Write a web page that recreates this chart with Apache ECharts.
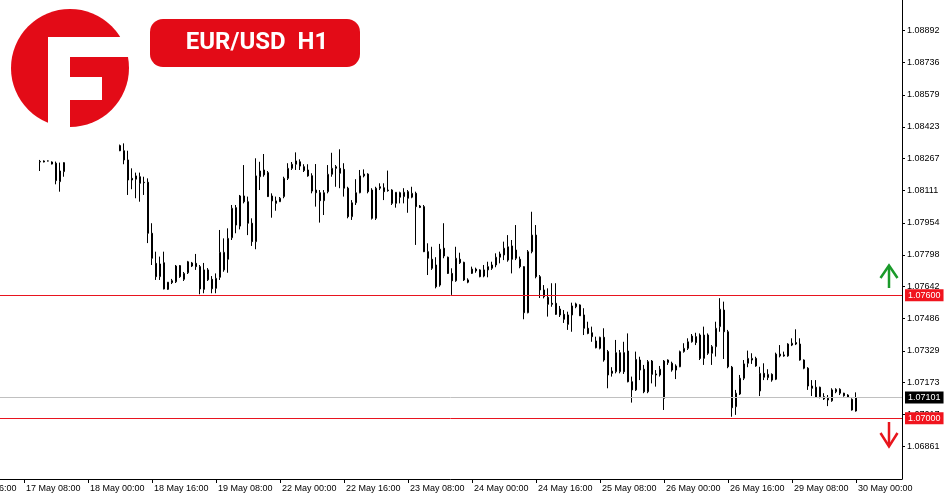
<!DOCTYPE html>
<html><head><meta charset="utf-8">
<script src="https://cdn.jsdelivr.net/npm/echarts@6.0.0/dist/echarts.min.js"></script>
<style>html,body{margin:0;padding:0;background:#fff}#c{width:950px;height:500px}</style>
</head><body><div id="c"></div><script>
// ---- data ----
const gap = n => Array(n).fill(null);
// trading days: [label, firstHour, lastHour]
const days = [['16 May',16,23],['17 May',0,23],['18 May',0,23],['19 May',0,23],['22 May',0,23],['23 May',0,23],['24 May',0,23],['25 May',0,23],['26 May',0,23],['29 May',0,23],['30 May',0,11]];
// hourly OHLC bars: [open, close, low, high]
const may16 = gap(8);
const may17 = [...gap(12),
 [1.08251,1.08254,1.08207,1.08261],[1.08256,1.08251,1.08249,1.08259],[1.08256,1.08256,1.08254,1.08258],[1.08251,1.08241,1.08239,1.08254],
 [1.08245,1.08160,1.08142,1.08253],[1.08155,1.08207,1.08106,1.08248],[1.08204,1.08248,1.08179,1.08250],
 ...gap(5)];
const may18 = [...gap(8),
 [1.08331,1.08306,1.08304,1.08336],[1.08306,1.08261,1.08240,1.08342],[1.08261,1.08163,1.08090,1.08306],[1.08171,1.08163,1.08118,1.08220],
 [1.08167,1.08183,1.08074,1.08199],[1.08179,1.08147,1.08057,1.08199],[1.08152,1.08150,1.08090,1.08179],[1.08152,1.07903,1.07855,1.08171],
 [1.07903,1.07781,1.07748,1.07952],[1.07756,1.07691,1.07675,1.07813],[1.07691,1.07753,1.07675,1.07789],[1.07759,1.07631,1.07629,1.07813],
 [1.07629,1.07664,1.07626,1.07665],[1.07671,1.07662,1.07655,1.07680],[1.07666,1.07743,1.07660,1.07748],[1.07745,1.07691,1.07685,1.07748]];
const may19 = [
 [1.07678,1.07707,1.07670,1.07714],[1.07710,1.07764,1.07704,1.07768],[1.07758,1.07743,1.07738,1.07763],[1.07756,1.07740,1.07724,1.07802],
 [1.07740,1.07631,1.07605,1.07748],[1.07629,1.07724,1.07610,1.07758],[1.07724,1.07676,1.07670,1.07733],[1.07678,1.07632,1.07610,1.07694],
 [1.07634,1.07683,1.07610,1.07707],[1.07688,1.07810,1.07675,1.07919],[1.07724,1.07810,1.07715,1.07878],[1.07776,1.07878,1.07710,1.07927],
 [1.07881,1.08025,1.07870,1.08041],[1.08028,1.07943,1.07903,1.08041],[1.07938,1.08085,1.07922,1.08090],[1.08085,1.08057,1.08049,1.08236],
 [1.08057,1.07952,1.07894,1.08082],[1.07952,1.07862,1.07841,1.07976],[1.07862,1.08183,1.07825,1.08269],[1.08179,1.08207,1.08114,1.08252],
 [1.08212,1.08188,1.08179,1.08290],[1.08199,1.08082,1.08080,1.08207],[1.08085,1.08061,1.07979,1.08098],[1.08061,1.08049,1.08013,1.08082]];
const may22 = [
 [1.08057,1.08074,1.08056,1.08080],[1.08082,1.08171,1.08074,1.08179],[1.08171,1.08220,1.08163,1.08245],[1.08220,1.08240,1.08212,1.08251],
 [1.08240,1.08256,1.08212,1.08298],[1.08252,1.08231,1.08212,1.08264],[1.08228,1.08209,1.08202,1.08240],[1.08212,1.08183,1.08179,1.08240],
 [1.08184,1.08109,1.08098,1.08196],[1.08114,1.08101,1.08033,1.08241],[1.08101,1.08062,1.07955,1.08114],[1.08062,1.08101,1.07992,1.08114],
 [1.08106,1.08191,1.08098,1.08236],[1.08191,1.08220,1.08179,1.08296],[1.08220,1.08228,1.08130,1.08236],[1.08220,1.08196,1.08123,1.08313],
 [1.08215,1.08123,1.08082,1.08245],[1.08123,1.07984,1.07976,1.08130],[1.07984,1.08052,1.07968,1.08065],[1.08052,1.08101,1.08041,1.08167],
 [1.08101,1.08183,1.08098,1.08212],[1.08183,1.08192,1.08176,1.08215],[1.08192,1.08106,1.08098,1.08196],[1.08114,1.07976,1.07970,1.08123]];
const may23 = [
 [1.07976,1.08123,1.07968,1.08130],[1.08130,1.08123,1.08114,1.08147],[1.08125,1.08106,1.08065,1.08147],[1.08114,1.08111,1.08106,1.08209],
 [1.08114,1.08049,1.08041,1.08118],[1.08049,1.08103,1.08028,1.08104],[1.08101,1.08079,1.08049,1.08106],[1.08082,1.08103,1.08049,1.08123],
 [1.08106,1.08074,1.08003,1.08114],[1.08079,1.08098,1.08074,1.08130],[1.08098,1.08033,1.07846,1.08106],[1.08036,1.08029,1.08026,1.08041],
 [1.08033,1.07813,1.07811,1.08041],[1.07813,1.07781,1.07699,1.07854],[1.07776,1.07732,1.07724,1.07837],[1.07748,1.07642,1.07634,1.07786],
 [1.07650,1.07825,1.07642,1.07851],[1.07830,1.07792,1.07781,1.07952],[1.07786,1.07707,1.07704,1.07789],[1.07707,1.07671,1.07602,1.07732],
 [1.07671,1.07781,1.07666,1.07837],[1.07776,1.07759,1.07753,1.07808],[1.07761,1.07675,1.07670,1.07764],[1.07675,1.07664,1.07659,1.07683]];
const may24 = [
 [1.07707,1.07728,1.07704,1.07740],[1.07728,1.07719,1.07710,1.07735],[1.07724,1.07691,1.07688,1.07727],[1.07694,1.07724,1.07688,1.07748],
 [1.07724,1.07740,1.07688,1.07764],[1.07732,1.07748,1.07724,1.07764],[1.07748,1.07786,1.07737,1.07805],[1.07786,1.07802,1.07756,1.07813],
 [1.07797,1.07830,1.07772,1.07862],[1.07772,1.07837,1.07764,1.07894],[1.07841,1.07776,1.07707,1.07870],[1.07821,1.07781,1.07772,1.07943],
 [1.07776,1.07740,1.07732,1.07789],[1.07740,1.07515,1.07483,1.07742],[1.07515,1.07813,1.07512,1.07821],[1.07813,1.07894,1.07805,1.08008],
 [1.07894,1.07691,1.07683,1.07943],[1.07691,1.07626,1.07587,1.07699],[1.07626,1.07593,1.07585,1.07650],[1.07590,1.07556,1.07496,1.07634],
 [1.07561,1.07556,1.07544,1.07659],[1.07561,1.07507,1.07504,1.07659],[1.07533,1.07504,1.07494,1.07548],[1.07507,1.07483,1.07465,1.07528]];
const may25 = [
 [1.07458,1.07504,1.07431,1.07520],[1.07504,1.07548,1.07422,1.07564],[1.07544,1.07558,1.07537,1.07564],[1.07553,1.07500,1.07499,1.07556],
 [1.07504,1.07439,1.07406,1.07537],[1.07439,1.07414,1.07410,1.07471],[1.07417,1.07398,1.07373,1.07447],[1.07377,1.07344,1.07341,1.07398],
 [1.07341,1.07395,1.07336,1.07398],[1.07395,1.07284,1.07276,1.07439],[1.07325,1.07211,1.07146,1.07333],[1.07219,1.07230,1.07203,1.07249],
 [1.07227,1.07320,1.07219,1.07382],[1.07227,1.07320,1.07219,1.07333],[1.07320,1.07227,1.07216,1.07373],[1.07328,1.07178,1.07175,1.07414],
 [1.07178,1.07138,1.07076,1.07203],[1.07138,1.07287,1.07133,1.07325],[1.07235,1.07284,1.07186,1.07300],[1.07239,1.07129,1.07122,1.07260],
 [1.07129,1.07276,1.07122,1.07284],[1.07279,1.07214,1.07170,1.07284],[1.07216,1.07211,1.07154,1.07235],[1.07211,1.07239,1.07203,1.07255]];
const may26 = [
 [1.07097,1.07279,1.07040,1.07284],[1.07271,1.07284,1.07260,1.07287],[1.07268,1.07235,1.07227,1.07276],[1.07235,1.07255,1.07191,1.07263],
 [1.07251,1.07325,1.07249,1.07330],[1.07325,1.07341,1.07320,1.07366],[1.07341,1.07373,1.07333,1.07390],[1.07373,1.07401,1.07369,1.07411],
 [1.07398,1.07369,1.07357,1.07417],[1.07406,1.07292,1.07284,1.07414],[1.07292,1.07406,1.07260,1.07447],[1.07406,1.07317,1.07309,1.07414],
 [1.07317,1.07349,1.07260,1.07357],[1.07349,1.07439,1.07301,1.07471],[1.07447,1.07532,1.07422,1.07586],[1.07528,1.07422,1.07289,1.07569],
 [1.07422,1.07251,1.07244,1.07431],[1.07249,1.07051,1.07007,1.07255],[1.07056,1.07122,1.07016,1.07138],[1.07118,1.07195,1.07113,1.07211],
 [1.07195,1.07265,1.07186,1.07284],[1.07268,1.07292,1.07249,1.07330],[1.07284,1.07292,1.07265,1.07317],[1.07292,1.07255,1.07251,1.07300]];
const may29 = [
 [1.07133,1.07219,1.07108,1.07251],[1.07219,1.07200,1.07186,1.07268],[1.07198,1.07214,1.07186,1.07239],[1.07214,1.07186,1.07178,1.07219],
 [1.07190,1.07313,1.07186,1.07320],[1.07304,1.07313,1.07297,1.07357],[1.07304,1.07309,1.07300,1.07325],[1.07304,1.07362,1.07300,1.07366],
 [1.07357,1.07366,1.07352,1.07390],[1.07369,1.07362,1.07357,1.07434],[1.07362,1.07284,1.07281,1.07390],[1.07284,1.07244,1.07239,1.07287],
 [1.07244,1.07157,1.07138,1.07249],[1.07157,1.07146,1.07108,1.07186],[1.07151,1.07102,1.07100,1.07186],[1.07151,1.07105,1.07097,1.07154],
 [1.07105,1.07094,1.07089,1.07122],[1.07097,1.07089,1.07059,1.07113],[1.07085,1.07138,1.07080,1.07146],[1.07129,1.07141,1.07122,1.07146],
 [1.07141,1.07122,1.07113,1.07146],[1.07122,1.07110,1.07105,1.07124],[1.07113,1.07102,1.07100,1.07117],[1.07092,1.07040,1.07037,1.07097]];
const may30 = [[1.07035,1.07101,1.07032,1.07126], ...gap(11)];

const yTickLabels = ['1.06861','1.07017','1.07173','1.07329','1.07486','1.07642','1.07798','1.07954','1.08111','1.08267','1.08423','1.08579','1.08736','1.08892'];
const yMin = 1.06703, yMax = 1.09042;
const levelUp = 1.07600, levelDown = 1.07000, lastPrice = 1.07101;

// ---- build ----
const pad = h => (h < 10 ? '0' : '') + h;
const categories = [];
days.forEach(([d, a, b]) => { for (let h = a; h <= b; h++) categories.push(d + ' ' + pad(h) + ':00'); });
const bars = [].concat(may16, may17, may18, may19, may22, may23, may24, may25, may26, may29, may30);
const data = bars.map(b => b ? b : ['-','-','-','-']);

const FONT = '"Liberation Sans", Arial, sans-serif';
const RED = '#e30b17';
const chart = echarts.init(document.getElementById('c'), null, {renderer: 'canvas'});
chart.setOption({
  animation: false,
  backgroundColor: '#ffffff',
  grid: {left: -42, right: 48, top: 0, bottom: 21, containLabel: false, outerBoundsMode: 'none'},
  xAxis: {
    type: 'category', data: categories, boundaryGap: true,
    axisLine: {show: true, lineStyle: {color: '#000', width: 1}},
    axisTick: {show: true, interval: 15, alignWithLabel: true, length: 4, lineStyle: {color: '#000'}},
    axisLabel: {interval: 15, align: 'left', margin: 5, color: '#000', fontSize: 9, fontFamily: FONT, padding: [0,0,0,2], hideOverlap: false},
    splitLine: {show: false}
  },
  yAxis: {
    type: 'value', position: 'right', min: yMin, max: yMax, scale: true,
    axisLine: {show: true, lineStyle: {color: '#000', width: 1}},
    axisTick: {show: true, length: 3, customValues: yTickLabels.map(Number), lineStyle: {color: '#000'}},
    axisLabel: {customValues: yTickLabels.map(Number), formatter: v => v.toFixed(5), margin: 5, color: '#000', fontSize: 9, fontFamily: FONT, padding: [0,0,3,0]},
    splitLine: {show: false}
  },
  series: [{
    type: 'candlestick', data: data, barWidth: 2,
    itemStyle: {color: '#ffffff', color0: '#000000', borderColor: '#000000', borderColor0: '#000000', borderWidth: 1},
    markLine: {
      silent: true, symbol: ['none', 'none'], animation: false, precision: 5,
      label: {show: true, position: 'end', distance: 3, color: '#fff', fontSize: 9, fontFamily: FONT, padding: [2,3,1,3], formatter: p => Number(p.value).toFixed(5)},
      data: [
        {yAxis: lastPrice, lineStyle: {color: '#c0c0c0', width: 1, type: 'solid'}, label: {backgroundColor: '#000000'}},
        {yAxis: levelUp, lineStyle: {color: '#e8141f', width: 1, type: 'solid'}, label: {backgroundColor: '#f0141e'}},
        {yAxis: levelDown, lineStyle: {color: '#e8141f', width: 1, type: 'solid'}, label: {backgroundColor: '#f0141e'}}
      ]
    }
  }],
  graphic: [
    {type: 'circle', shape: {cx: 70, cy: 68, r: 59}, style: {fill: RED}},
    {type: 'rect', shape: {x: 48, y: 37, width: 22, height: 100}, style: {fill: '#fff'}},
    {type: 'rect', shape: {x: 48, y: 37, width: 95, height: 20}, style: {fill: '#fff'}},
    {type: 'rect', shape: {x: 70, y: 77, width: 32, height: 23}, style: {fill: '#fff'}},
    {type: 'rect', shape: {x: 150, y: 19, width: 210, height: 48, r: 13}, style: {fill: RED}},
    {type: 'text', x: 257, y: 43, style: {text: 'EUR/USD  H1', fill: '#fff', fontSize: 24, fontWeight: 'bold', fontFamily: 'Roboto, "Liberation Sans", sans-serif', align: 'center', verticalAlign: 'middle'}},
    {type: 'polyline', shape: {points: [[889, 288], [889, 266]]}, style: {stroke: '#1a9a2a', lineWidth: 2.5, fill: null}},
    {type: 'polyline', shape: {points: [[880.5, 278], [889, 265.5], [897.5, 278]]}, style: {stroke: '#1a9a2a', lineWidth: 2.5, fill: null}},
    {type: 'polyline', shape: {points: [[889, 422], [889, 446]]}, style: {stroke: '#e8151c', lineWidth: 2.5, fill: null}},
    {type: 'polyline', shape: {points: [[880.5, 433], [889, 446.5], [897.5, 433]]}, style: {stroke: '#e8151c', lineWidth: 2.5, fill: null}}
  ]
});
</script></body></html>
